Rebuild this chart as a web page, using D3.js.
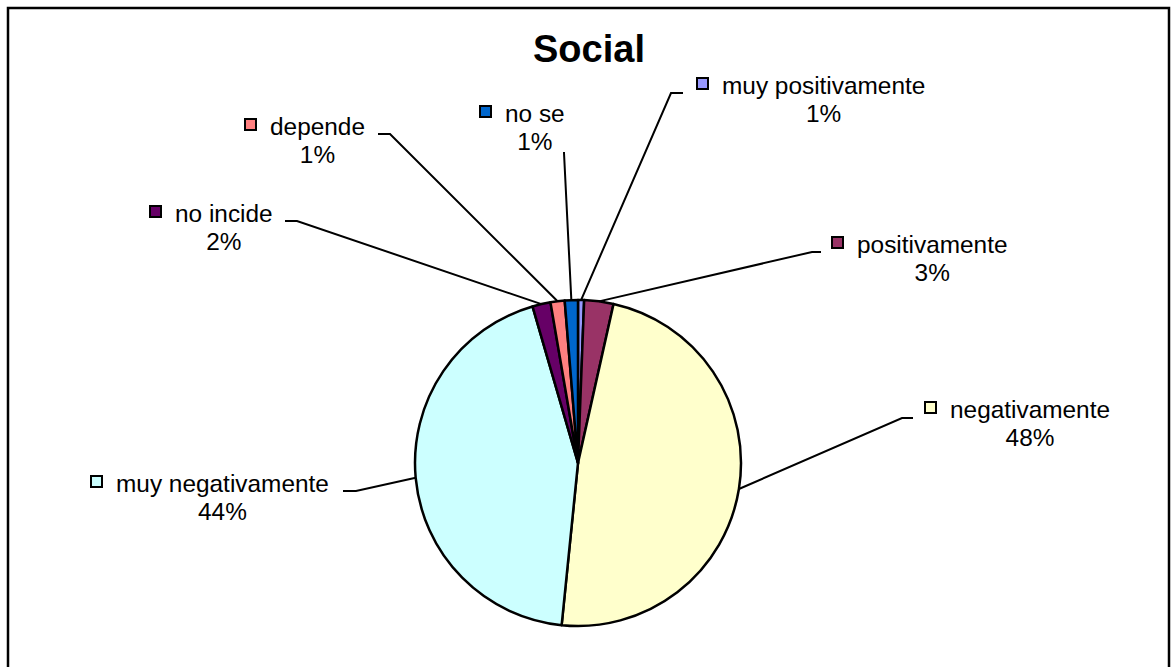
<!DOCTYPE html>
<html>
<head>
<meta charset="utf-8">
<style>
body { margin: 0; background: #fff; }
text { font-family: "Liberation Sans", Arial, sans-serif; fill: #000; }
.slice path { stroke: #000; stroke-width: 2.5px; stroke-linejoin: round; }
.leader { fill: none; stroke: #000; stroke-width: 2px; }
</style>
</head>
<body>
<svg width="1172" height="667"></svg>
<script src="https://d3js.org/d3.v7.min.js"></script>
<script>

var categories = ["muy positivamente", "positivamente", "negativamente", "muy negativamente", "no incide", "depende", "no se"];
var values = [0.6, 2.9, 48.1, 43.9, 1.8, 1.4, 1.3];
var colors = ["#9999FF", "#993366", "#FFFFCC", "#CCFFFF", "#660066", "#FF8080", "#0066CC"];

// label text start + baseline, and the two stub points of each leader line
var labelPos = [[722, 94], [857, 253], [950, 418], [116, 492], [175, 222], [270, 135], [505, 122]];
var stubs = [
  [[683, 93], [671, 93]],
  [[821, 252], [812, 252]],
  [[913, 418], [902, 418]],
  [[343, 491], [356, 491]],
  [[285, 221], [297, 221]],
  [[378, 134], [390, 134]],
  [[564, 152], [564, 153]]
];

var svg = d3.select("svg"),
    cx = 578, cy = 463, r = 163;

svg.append("rect")
    .attr("x", 8).attr("y", 8)
    .attr("width", 1161).attr("height", 720)
    .attr("fill", "#fff")
    .attr("stroke", "#000")
    .attr("stroke-width", 2.5);

svg.append("text")
    .attr("x", 589).attr("y", 62)
    .attr("text-anchor", "middle")
    .style("font-size", "38px")
    .style("font-weight", "bold")
    .text("Social");

var data = categories.map(function(c, i) { return { name: c, value: values[i], color: colors[i] }; });
var total = d3.sum(values);

var pie = d3.pie().sort(null).value(function(d) { return d.value; });
var arc = d3.arc().innerRadius(0).outerRadius(r);
var arcs = pie(data);

var g = svg.append("g").attr("transform", "translate(" + cx + "," + cy + ")");

g.append("g").attr("class", "slice")
  .selectAll("path")
  .data(arcs)
  .enter().append("path")
    .attr("d", arc)
    .attr("fill", function(d) { return d.data.color; });

// leader lines from stub to the slice edge
var line = d3.line();
arcs.forEach(function(d, i) {
  var mid = (d.startAngle + d.endAngle) / 2;
  var edge = [cx + r * Math.sin(mid), cy - r * Math.cos(mid)];
  svg.append("path")
      .attr("class", "leader")
      .attr("d", line([stubs[i][0], stubs[i][1], edge]));
});

// labels
arcs.forEach(function(d, i) {
  var x = labelPos[i][0], y = labelPos[i][1];
  svg.append("rect")
      .attr("x", x - 25).attr("y", y - 16)
      .attr("width", 11).attr("height", 11)
      .attr("fill", d.data.color)
      .attr("stroke", "#000")
      .attr("stroke-width", 2);
  var t = svg.append("text")
      .attr("x", x).attr("y", y)
      .style("font-size", "24.4px")
      .text(d.data.name);
  var w = t.node().getComputedTextLength();
  svg.append("text")
      .attr("x", x + w / 2).attr("y", y + 28)
      .attr("text-anchor", "middle")
      .style("font-size", "24.4px")
      .text(Math.round(d.data.value / total * 100) + "%");
});

</script>
</body>
</html>
